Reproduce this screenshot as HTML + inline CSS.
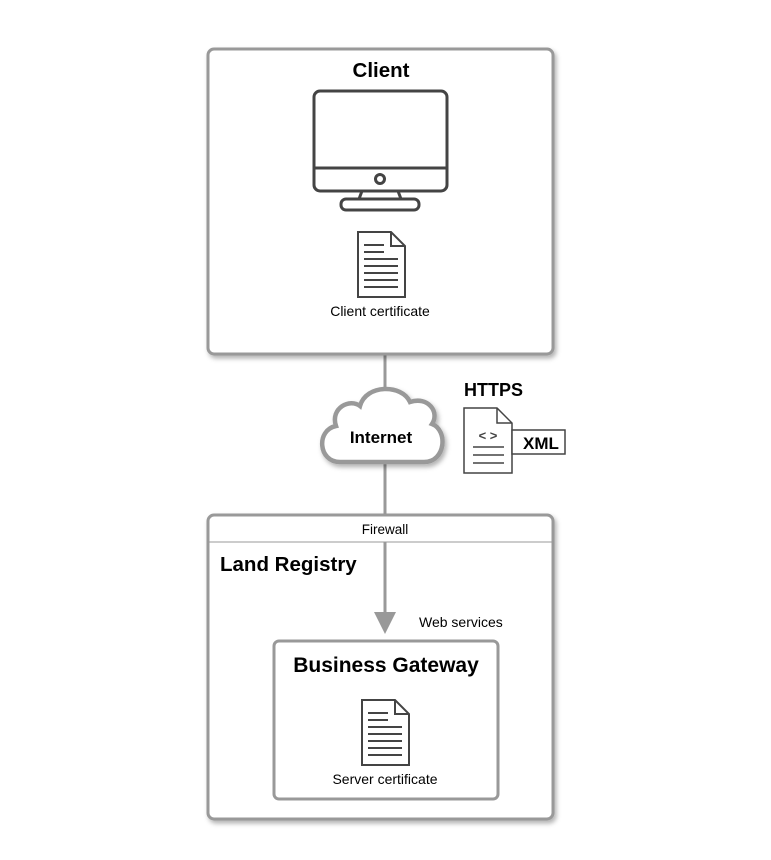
<!DOCTYPE html>
<html><head><style>
body{margin:0;background:#fff;width:771px;height:860px;overflow:hidden}
svg{display:block}
text{font-family:"Liberation Sans",Arial,sans-serif}
</style></head><body>
<svg width="771" height="860" viewBox="0 0 771 860">
<defs>
<filter id="sh" x="-10%" y="-10%" width="130%" height="130%"><feDropShadow dx="2" dy="3" stdDeviation="2.5" flood-color="#000" flood-opacity="0.3"/></filter>
</defs>
<line x1="385" y1="354" x2="385" y2="395" stroke="#999" stroke-width="3"/>
<line x1="385" y1="460" x2="385" y2="612" stroke="#999" stroke-width="3"/>
<!-- Client box -->
<rect x="208" y="49" width="345" height="305" rx="6" fill="#fff" stroke="#999" stroke-width="3" filter="url(#sh)"/>
<text x="381" y="77" font-size="20.5" font-weight="bold" text-anchor="middle">Client</text>
<g fill="none" stroke="#444" stroke-width="3">
<rect x="314" y="91" width="133" height="100" rx="6"/>
<line x1="314" y1="168" x2="447" y2="168"/>
<circle cx="380" cy="179" r="4.5"/>
<path d="M362,191 L359,199 L401,199 L398,191"/>
<rect x="341" y="199" width="78" height="11" rx="5"/>
</g>
<g fill="none" stroke="#444" stroke-width="2">
<path d="M358,232 L391,232 L405,246 L405,297 L358,297 Z"/>
<path d="M391,232 L391,246 L405,246"/>
<path d="M364,245 H384 M364,252 H384 M364,259 H398 M364,266 H398 M364,273 H398 M364,280 H398 M364,287 H398"/>
</g>
<text x="380" y="316" font-size="14" text-anchor="middle">Client certificate</text>
<!-- cloud -->
<path d="M340,462 C318,462 316,430 336,426 C330,408 350,398 360,406 C366,384 402,384 410,402 C428,396 440,412 432,424 C448,430 446,462 424,462 Z" fill="#fff" stroke="#999" stroke-width="4.5" filter="url(#sh)"/>
<text x="381" y="443" font-size="17" font-weight="bold" text-anchor="middle">Internet</text>
<!-- HTTPS -->
<text x="464" y="396" font-size="18" font-weight="bold">HTTPS</text>
<g fill="#fff" stroke="#444" stroke-width="1.5">
<path d="M464,408 L497,408 L512,423 L512,473 L464,473 Z"/>
<path d="M497,408 L497,423 L512,423" fill="none"/>
<rect x="512" y="430" width="53" height="24"/>
</g>
<text x="488" y="440" font-size="13" font-weight="bold" text-anchor="middle" fill="#444">&lt; &gt;</text>
<path d="M473,447 H504 M473,455 H504 M473,463 H504" stroke="#444" stroke-width="1.5"/>
<text x="541" y="449" font-size="17" font-weight="bold" text-anchor="middle">XML</text>
<!-- Land Registry -->
<rect x="208" y="515" width="345" height="304" rx="6" fill="#fff" stroke="#999" stroke-width="3" filter="url(#sh)"/>
<line x1="209" y1="542" x2="552" y2="542" stroke="#999" stroke-width="1"/>
<text x="385" y="534" font-size="13.5" text-anchor="middle">Firewall</text>
<text x="220" y="571" font-size="20.5" font-weight="bold">Land Registry</text>
<line x1="385" y1="542" x2="385" y2="612" stroke="#999" stroke-width="3"/>
<polygon points="374,612 396,612 385,634" fill="#999"/>
<text x="419" y="627" font-size="14">Web services</text>
<!-- Business gateway -->
<rect x="274" y="641" width="224" height="158" rx="5" fill="#fff" stroke="#999" stroke-width="3"/>
<text x="386" y="672" font-size="21" font-weight="bold" text-anchor="middle">Business Gateway</text>
<g fill="none" stroke="#444" stroke-width="2">
<path d="M362,700 L395,700 L409,714 L409,765 L362,765 Z"/>
<path d="M395,700 L395,714 L409,714"/>
<path d="M368,713 H388 M368,720 H388 M368,727 H402 M368,734 H402 M368,741 H402 M368,748 H402 M368,755 H402"/>
</g>
<text x="385" y="784" font-size="14" text-anchor="middle">Server certificate</text>
</svg>
</body></html>
